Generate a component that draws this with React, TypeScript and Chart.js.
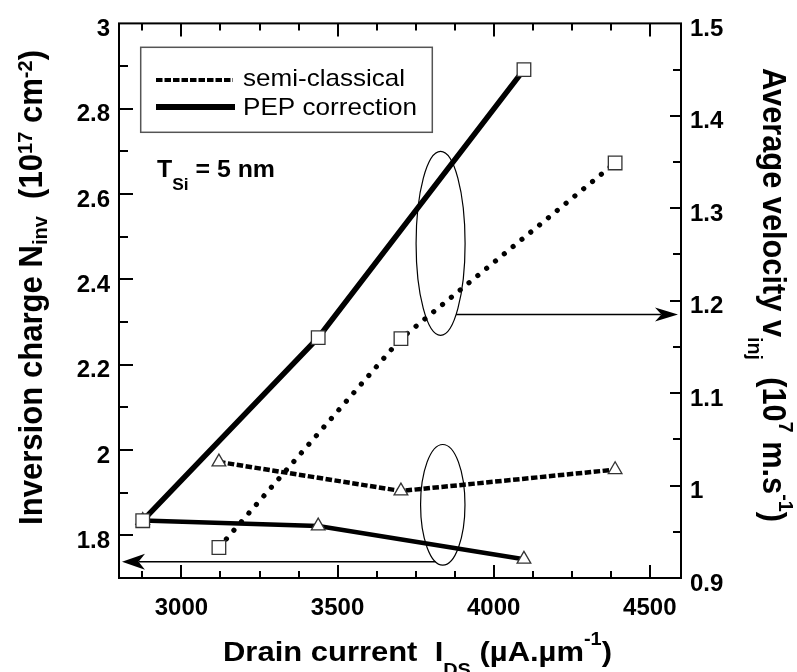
import React, { useEffect, useRef } from 'react';
import { Chart, registerables } from 'chart.js';

Chart.register(...registerables);

// ---- axes ----
const X_MIN = 2800;
const X_MAX = 4600;
const NINV_MIN = 1.7;
const NINV_MAX = 3;
const VEL_MIN = 0.9;
const VEL_MAX = 1.5;
const X_TICKS = [3000, 3500, 4000, 4500];
const NINV_TICKS = [1.8, 2, 2.2, 2.4, 2.6, 2.8, 3];
const VEL_TICKS = [0.9, 1, 1.1, 1.2, 1.3, 1.4, 1.5];

// ---- data ----
const IDS_PEP = [2876, 3438, 4097];
const IDS_SEMI = [3120, 3703, 4389];
const VINJ_PEP = [0.962, 1.16, 1.45];
const VINJ_SEMI = [0.933, 1.159, 1.349];
const NINV_PEP = [1.835, 1.822, 1.744];
const NINV_SEMI = [1.972, 1.904, 1.954];

const LEGEND_LABELS = ['semi-classical', 'PEP correction'];

const FONT = '"Liberation Sans", Arial, Helvetica, sans-serif';

type Seg = [string, number]; // 0 normal, 1 sub, 2 sup

const TITLE_X: Seg[] = [['Drain current  I', 0], ['DS', 1], [' (\u00B5A.\u00B5m', 0], ['-1', 2], [')', 0]];
const TITLE_YL: Seg[] = [['Inversion charge N', 0], ['inv', 1], ['  (10', 0], ['17', 2], [' cm', 0], ['-2', 2], [')', 0]];
const TITLE_YR: Seg[] = [['Average velocity v', 0], ['inj', 1], ['  (10', 0], ['7', 2], [' m.s', 0], ['-1', 2], [')', 0]];
const TSI: Seg[] = [['T', 0], ['Si', 1], [' = 5 nm', 0]];

const pts = (xs: number[], ys: number[]) => xs.map((x, i) => ({ x, y: ys[i] }));

interface RichOpts {
  x: number; y: number; rot: number; size: number; weight: string;
  len: number; align: 'start' | 'center'; sy: number;
  subDy: number; supDy: number; subSize: number;
}

function drawRich(ctx: CanvasRenderingContext2D, segs: Seg[], o: RichOpts) {
  ctx.save();
  ctx.translate(o.x, o.y);
  ctx.rotate(o.rot);
  const widths: number[] = [];
  let w = 0;
  segs.forEach(([t, k]) => {
    ctx.font = `${o.weight} ${k ? o.subSize : o.size}px ${FONT}`;
    const m = ctx.measureText(t).width;
    widths.push(m);
    w += m;
  });
  const sx = o.len > 0 ? o.len / w : 1;
  ctx.scale(sx, o.sy);
  ctx.textAlign = 'left';
  ctx.textBaseline = 'alphabetic';
  ctx.fillStyle = '#000';
  let cx = o.align === 'center' ? -w / 2 : 0;
  segs.forEach(([t, k], i) => {
    ctx.font = `${o.weight} ${k ? o.subSize : o.size}px ${FONT}`;
    const dy = k === 1 ? o.subDy : k === 2 ? o.supDy : 0;
    ctx.fillText(t, cx, dy / o.sy);
    cx += widths[i];
  });
  ctx.restore();
}

function arrowHead(ctx: CanvasRenderingContext2D, tipX: number, y: number, dir: number, len: number, half: number) {
  ctx.beginPath();
  ctx.moveTo(tipX, y);
  ctx.lineTo(tipX - dir * len, y - half);
  ctx.lineTo(tipX - dir * len * 0.72, y);
  ctx.lineTo(tipX - dir * len, y + half);
  ctx.closePath();
  ctx.fill();
}

const decor = {
  id: 'decor',
  afterDatasetsDraw(chart: any) {
    const ctx: CanvasRenderingContext2D = chart.ctx;
    const { left, right, top, bottom } = chart.chartArea;
    const sx = chart.scales.x;
    const sl = chart.scales.yL;
    const sr = chart.scales.yR;
    ctx.save();
    ctx.strokeStyle = '#000';
    ctx.fillStyle = '#000';
    ctx.lineCap = 'butt';
    ctx.setLineDash([]);

    // frame
    ctx.lineWidth = 2;
    ctx.strokeRect(left, top, right - left, bottom - top);

    // tick marks (inward)
    ctx.beginPath();
    for (let i = 0; ; i++) {
      const v = 2875 + 125 * i;
      if (v >= X_MAX) break;
      const p = Math.round(sx.getPixelForValue(v));
      const len = X_TICKS.includes(v) ? 13 : 7;
      ctx.moveTo(p, bottom); ctx.lineTo(p, bottom - len);
      ctx.moveTo(p, top); ctx.lineTo(p, top + len);
    }
    for (let i = 1; i < 13; i++) {
      const v = NINV_MIN + 0.1 * i;
      const p = Math.round(sl.getPixelForValue(v));
      const len = i % 2 === 1 ? 14 : 9;
      ctx.moveTo(left, p); ctx.lineTo(left + len, p);
    }
    for (let i = 1; i < 12; i++) {
      const v = VEL_MIN + 0.05 * i;
      const p = Math.round(sr.getPixelForValue(v));
      const len = i % 2 === 0 ? 11 : 8;
      ctx.moveTo(right, p); ctx.lineTo(right - len, p);
    }
    ctx.stroke();

    // ellipses + arrows
    ctx.lineWidth = 1.2;
    const ux = sx.getPixelForValue(3830);
    const uy = sr.getPixelForValue(1.262);
    const urx = 24.5, ury = 92;
    ctx.beginPath();
    ctx.ellipse(ux, uy, urx, ury, 0, 0, Math.PI * 2);
    ctx.stroke();
    const ay = sr.getPixelForValue(1.185);
    const ady = ay - uy;
    const ax0 = ux + urx * Math.sqrt(Math.max(0, 1 - (ady / ury) ** 2));
    ctx.lineWidth = 1.5;
    ctx.beginPath();
    ctx.moveTo(ax0, ay); ctx.lineTo(right - 20, ay);
    ctx.stroke();
    arrowHead(ctx, right - 3, ay, 1, 23, 7);

    ctx.lineWidth = 1.2;
    const lx = sx.getPixelForValue(3837);
    const ly = sl.getPixelForValue(1.8716);
    const lrx = 22.2, lry = 60.3;
    ctx.beginPath();
    ctx.ellipse(lx, ly, lrx, lry, 0, 0, Math.PI * 2);
    ctx.stroke();
    const by = sl.getPixelForValue(1.7381);
    const bdy = by - ly;
    const bx0 = lx - lrx * Math.sqrt(Math.max(0, 1 - (bdy / lry) ** 2));
    ctx.lineWidth = 1.5;
    ctx.beginPath();
    ctx.moveTo(bx0, by); ctx.lineTo(left + 20, by);
    ctx.stroke();
    arrowHead(ctx, left + 3, by, -1, 23, 8);

    // legend box
    ctx.lineWidth = 1.5;
    ctx.strokeStyle = '#555';
    ctx.strokeRect(140.7, 47.3, 291.6, 85);
    ctx.strokeStyle = '#000';
    ctx.lineWidth = 4;
    ctx.setLineDash([6.5, 2]);
    ctx.beginPath(); ctx.moveTo(156, 80); ctx.lineTo(233, 80); ctx.stroke();
    ctx.setLineDash([]);
    ctx.lineWidth = 6;
    ctx.beginPath(); ctx.moveTo(156, 107); ctx.lineTo(235, 107); ctx.stroke();
    drawRich(ctx, [[LEGEND_LABELS[0], 0]], { x: 243, y: 86, rot: 0, size: 24, weight: 'normal', len: 162, align: 'start', sy: 1, subDy: 0, supDy: 0, subSize: 16 });
    drawRich(ctx, [[LEGEND_LABELS[1], 0]], { x: 243, y: 115, rot: 0, size: 24, weight: 'normal', len: 174, align: 'start', sy: 1, subDy: 0, supDy: 0, subSize: 16 });

    // T_Si label
    drawRich(ctx, TSI, { x: 157, y: 177, rot: 0, size: 23, weight: 'bold', len: 118, align: 'start', sy: 1, subDy: 13, supDy: 0, subSize: 16 });

    // axis titles
    drawRich(ctx, TITLE_X, { x: 417.5, y: 661, rot: 0, size: 28, weight: 'bold', len: 389, align: 'center', sy: 1, subDy: 15, supDy: -16, subSize: 18 });
    drawRich(ctx, TITLE_YL, { x: 41.7, y: 287.5, rot: -Math.PI / 2, size: 28, weight: 'bold', len: 475, align: 'center', sy: 1.16, subDy: 5, supDy: -10, subSize: 18 });
    drawRich(ctx, TITLE_YR, { x: 763, y: 295, rot: Math.PI / 2, size: 28, weight: 'bold', len: 454, align: 'center', sy: 1.16, subDy: 15, supDy: -16, subSize: 18 });

    ctx.restore();
  },
};

const tickFont = { family: FONT, size: 24, weight: 'bold' };

export default function App() {
  const ref = useRef<HTMLCanvasElement>(null);
  useEffect(() => {
    const canvas = ref.current;
    if (!canvas) return;
    const chart = new Chart(canvas, {
      type: 'line',
      data: {
        datasets: [
          {
            label: 'v PEP', yAxisID: 'yR', data: pts(IDS_PEP, VINJ_PEP),
            borderColor: '#000', borderWidth: 5.5, pointStyle: 'rect', pointRadius: 9.6,
            pointBackgroundColor: '#fff', pointBorderColor: '#333', pointBorderWidth: 1.3, tension: 0,
          },
          {
            label: 'v semi', yAxisID: 'yR', data: pts(IDS_SEMI, VINJ_SEMI),
            borderColor: '#000', borderWidth: 5.2, borderDash: [0.01, 11.4], borderCapStyle: 'round',
            pointStyle: 'rect', pointRadius: 9.6,
            pointBackgroundColor: '#fff', pointBorderColor: '#333', pointBorderWidth: 1.3, tension: 0,
          },
          {
            label: 'N PEP', yAxisID: 'yL', data: pts(IDS_PEP, NINV_PEP),
            borderColor: '#000', borderWidth: 4.5, pointStyle: 'triangle', pointRadius: 7.9,
            pointBackgroundColor: '#fff', pointBorderColor: '#333', pointBorderWidth: 1.3, tension: 0,
          },
          {
            label: 'N semi', yAxisID: 'yL', data: pts(IDS_SEMI, NINV_SEMI),
            borderColor: '#000', borderWidth: 4.5, borderDash: [6.5, 2.5],
            pointStyle: 'triangle', pointRadius: 7.9,
            pointBackgroundColor: '#fff', pointBorderColor: '#333', pointBorderWidth: 1.3, tension: 0,
          },
        ] as any,
      },
      options: {
        responsive: false,
        animation: false,
        devicePixelRatio: 1,
        events: [],
        clip: false as any,
        layout: { padding: { top: 23, left: 0, right: 0, bottom: 0 }, autoPadding: false } as any,
        plugins: { legend: { display: false }, tooltip: { enabled: false }, title: { display: false } },
        scales: {
          x: {
            type: 'linear', position: 'bottom', min: X_MIN, max: X_MAX,
            grid: { display: false, drawTicks: false }, border: { display: false },
            ticks: { font: tickFont, color: '#000', padding: 16, maxRotation: 0, autoSkip: false, callback: (v: any) => String(v) },
            afterBuildTicks: (s: any) => { s.ticks = X_TICKS.map((value) => ({ value })); },
            afterFit: (s: any) => { s.height = 94; },
          },
          yL: {
            type: 'linear', position: 'left', min: NINV_MIN, max: NINV_MAX,
            grid: { display: false, drawTicks: false }, border: { display: false },
            ticks: { font: tickFont, color: '#000', padding: 9, labelOffset: 6, autoSkip: false, callback: (v: any) => String(v) },
            afterBuildTicks: (s: any) => { s.ticks = NINV_TICKS.map((value) => ({ value })); },
            afterFit: (s: any) => { s.width = 119; },
          },
          yR: {
            type: 'linear', position: 'right', min: VEL_MIN, max: VEL_MAX,
            grid: { display: false, drawTicks: false }, border: { display: false },
            ticks: { font: tickFont, color: '#000', padding: 9, labelOffset: 6, autoSkip: false, callback: (v: any) => String(v) },
            afterBuildTicks: (s: any) => { s.ticks = VEL_TICKS.map((value) => ({ value })); },
            afterFit: (s: any) => { s.width = 116; },
          },
        } as any,
      },
      plugins: [decor],
    });
    return () => chart.destroy();
  }, []);
  return (
    <div style={{ position: 'fixed', left: 0, top: 0, width: 797, height: 672, background: '#fff' }}>
      <canvas ref={ref} width={797} height={672} style={{ width: 797, height: 672, display: 'block' }} />
    </div>
  );
}
